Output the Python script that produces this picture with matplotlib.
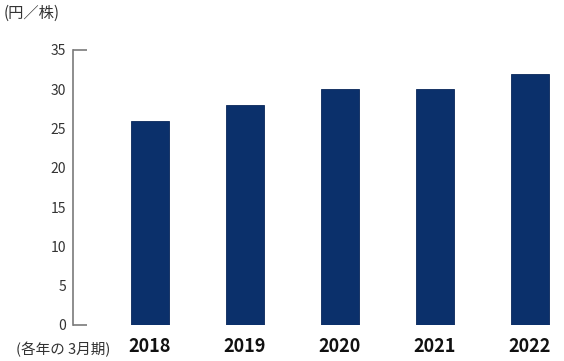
import matplotlib.pyplot as plt

plt.rcParams['font.family'] = ['Noto Sans CJK JP', 'DejaVu Sans']

# data
years = ['2018', '2019', '2020', '2021', '2022']
dividend = [26, 28, 30, 30, 32]
yticks = [0, 5, 10, 15, 20, 25, 30, 35]

fig = plt.figure(figsize=(5.64, 3.61), dpi=100)
ax = fig.add_axes([73 / 564, 36 / 361, 485 / 564, 275 / 361])

x = range(len(years))
ax.bar(x, dividend, width=0.4, color='#0b306b', edgecolor='#08265a', linewidth=0.6)

ax.set_xlim(-0.81, 4.3)
ax.set_ylim(0, 35)
ax.set_xticks(list(x))
ax.set_xticklabels(years, fontsize=13, fontweight='bold', color='#111111')
ax.tick_params(axis='x', length=0, pad=9)

ax.set_yticks(yticks)
ax.set_yticklabels([str(v) for v in yticks], fontsize=10, color='#333333')
ax.tick_params(axis='y', which='major', length=0, pad=5)
# short inward ticks only at the ends of the axis
ax.yaxis.remove_overlapping_locs = False
ax.set_yticks([0, 35], minor=True)
ax.tick_params(axis='y', which='minor', direction='in', length=10, width=1.2, color='#7a7a7a')

for s in ['top', 'right', 'bottom']:
    ax.spines[s].set_visible(False)
ax.spines['left'].set_color('#7a7a7a')
ax.spines['left'].set_linewidth(1.2)

fig.text(4 / 564, 1 - 13 / 361, '(円／株)', fontsize=11, color='#333333', va='center', ha='left')
fig.text(16 / 564, 1 - 349 / 361, '(各年の 3月期)', fontsize=10.5, color='#333333', va='center', ha='left')

fig.savefig('out.png', dpi=100)
